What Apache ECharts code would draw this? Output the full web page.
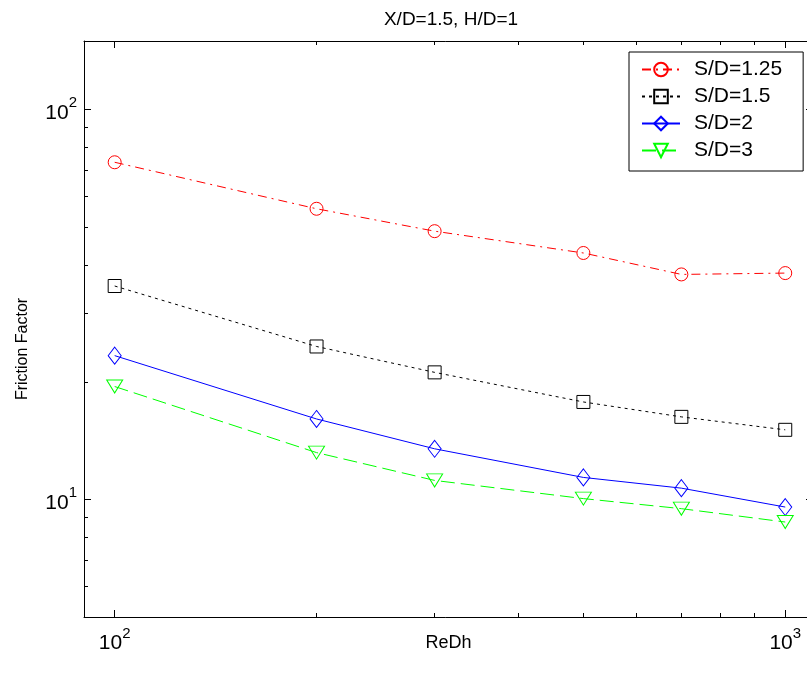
<!DOCTYPE html>
<html>
<head>
<meta charset="utf-8">
<script src="https://cdn.jsdelivr.net/npm/echarts@6/dist/echarts.min.js"></script>
<style>html,body{margin:0;padding:0;background:#fff}#c{width:807px;height:686px}</style>
</head>
<body>
<div id="c"></div>
<script>
const reDh = [100, 200, 300, 500, 700, 1000];
const sd125 = [73.3, 55.7, 48.8, 42.9, 37.8, 38.1];
const sd15 = [35.3, 24.7, 21.2, 17.8, 16.3, 15.1];
const sd2 = [23.4, 16.1, 13.5, 11.4, 10.7, 9.57];
const sd3 = [19.5, 13.2, 11.2, 10.06, 9.48, 8.76];
const seriesNames = ['S/D=1.25', 'S/D=1.5', 'S/D=2', 'S/D=3'];
const xMajorTicks = [100, 1000];
const xMinorTicks = [200, 300, 400, 500, 600, 700, 800, 900];
const yMajorTicks = [10, 100];
const yMinorTicks = [6, 7, 8, 9, 20, 30, 40, 50, 60, 70, 80, 90];
const titleText = 'X/D=1.5, H/D=1';
const xName = 'ReDh';
const yName = 'Friction Factor';

const FONT = "'Liberation Sans', Arial, sans-serif";
const X_MIN = 90, X_MAX = 1100, Y_MIN = 5, Y_MAX = 150;

function pow10Label(v) {
  const e = Math.round(Math.log10(v));
  return '{b|10}{s|' + e + '}';
}
const rich = {
  b: {fontSize: 21, fontFamily: FONT, color: '#000', padding: [7, 0, 0, 0]},
  s: {fontSize: 15, fontFamily: FONT, color: '#000', verticalAlign: 'top'}
};

function xAx(pos, ticks, len, main) {
  return {
    type: 'log', logBase: 10, min: X_MIN, max: X_MAX, position: pos, gridIndex: 0,
    axisLine: {show: main, lineStyle: {color: '#000', width: 1}},
    axisTick: {show: true, inside: true, length: len, customValues: ticks, lineStyle: {color: '#000', width: 1}},
    axisLabel: (main && pos === 'bottom') ? {show: true, customValues: xMajorTicks, formatter: pow10Label, rich: rich, margin: 9} : {show: false},
    splitLine: {show: false}, minorTick: {show: false},
    name: (main && pos === 'bottom') ? xName : '',
    nameLocation: 'middle', nameGap: 17, nameMoveOverlap: false,
    nameTextStyle: {fontSize: 18, fontFamily: FONT, color: '#000'}
  };
}
function yAx(pos, ticks, len, main) {
  return {
    type: 'log', logBase: 10, min: Y_MIN, max: Y_MAX, position: pos, gridIndex: 0,
    axisLine: {show: main, lineStyle: {color: '#000', width: 1}},
    axisTick: {show: true, inside: true, length: len, customValues: ticks, lineStyle: {color: '#000', width: 1}},
    axisLabel: (main && pos === 'left') ? {show: true, customValues: yMajorTicks, formatter: pow10Label, rich: rich, margin: 7} : {show: false},
    splitLine: {show: false}, minorTick: {show: false},
    name: (main && pos === 'left') ? yName : '',
    nameLocation: 'middle', nameGap: 53, nameRotate: 90, nameMoveOverlap: false,
    nameTextStyle: {fontSize: 16, fontFamily: FONT, color: '#000', padding: [0, 40, 0, 0]}
  };
}

function pairs(ys) { return reDh.map((x, i) => [x, ys[i]]); }

const styles = [
  {color: '#ff0000', type: [9, 5, 2, 5], symbol: 'circle', size: 13},
  {color: '#000000', type: [3, 4], symbol: 'rect', size: 13},
  {color: '#0000ff', type: 'solid', symbol: 'diamond', size: [13, 17]},
  {color: '#00ff00', type: [14, 6], symbol: 'path://M0,0L10,0L5,8Z', size: [16, 13]}
];
const values = [sd125, sd15, sd2, sd3];

const series = values.map((ys, i) => ({
  name: seriesNames[i], type: 'line', xAxisIndex: 0, yAxisIndex: 0,
  data: pairs(ys),
  symbol: styles[i].symbol, symbolSize: styles[i].size, showAllSymbol: true,
  lineStyle: {color: styles[i].color, width: 1, type: styles[i].type},
  itemStyle: {color: 'rgba(0,0,0,0)', borderColor: styles[i].color, borderWidth: 1},
  emphasis: {disabled: true}
}));

const chart = echarts.init(document.getElementById('c'), null, {renderer: 'canvas'});
chart.setOption({
  animation: false,
  backgroundColor: '#fff',
  title: {text: titleText, left: 446, top: 5, textAlign: 'center',
    textStyle: {fontSize: 19, fontWeight: 'normal', fontFamily: FONT, color: '#000'}},
  grid: {left: 84, top: 41, width: 729, height: 576, containLabel: false, outerBoundsMode: 'none'},
  xAxis: [xAx('bottom', xMajorTicks, 7, true), xAx('bottom', xMinorTicks, 4, false),
          xAx('top', xMajorTicks, 7, true), xAx('top', xMinorTicks, 4, false)],
  yAxis: [yAx('left', yMajorTicks, 7, true), yAx('left', yMinorTicks, 4, false),
          yAx('right', yMajorTicks, 7, true), yAx('right', yMinorTicks, 4, false)],
  legend: {
    orient: 'vertical', left: 629, top: 52,
    padding: [7, 21, 10, 12], itemGap: 6, itemWidth: 38, itemHeight: 17,
    borderColor: '#000', borderWidth: 1, backgroundColor: '#fff',
    textStyle: {fontSize: 21, fontFamily: FONT, color: '#000', lineHeight: 20, padding: [0, 0, 0, 9]},
    data: seriesNames
  },
  series: series
});
</script>
</body>
</html>
